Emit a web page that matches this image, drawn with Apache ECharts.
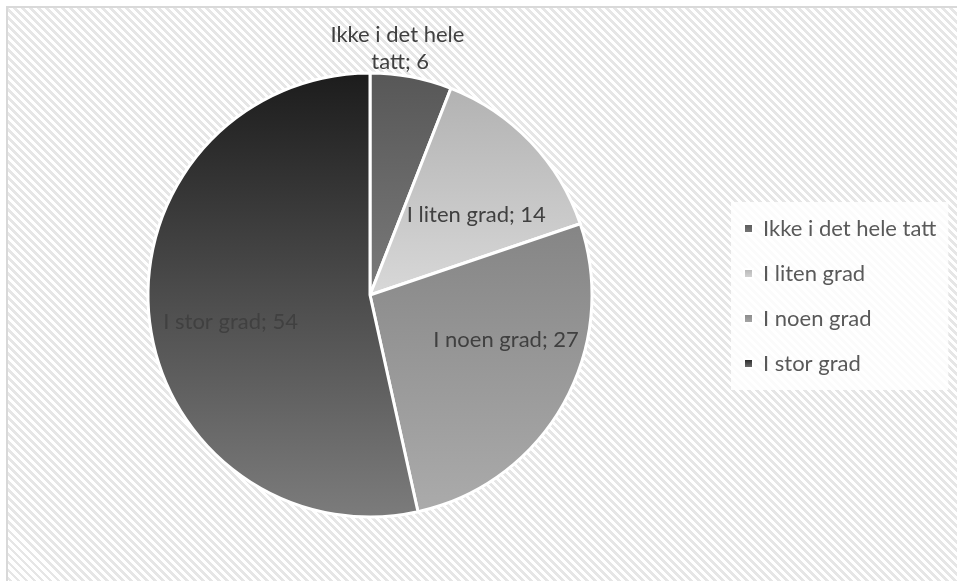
<!DOCTYPE html>
<html>
<head>
<meta charset="utf-8">
<script src="https://cdn.jsdelivr.net/npm/echarts@6/dist/echarts.min.js"></script>
<style>
  html, body { margin: 0; padding: 0; background: #fff; }
  #frame {
    position: absolute; left: 6px; top: 6px; width: 960px; height: 590px;
    box-sizing: border-box;
    border-left: 2px solid #d9d9d9; border-top: 2px solid #d9d9d9;
    background-color: #fff;
    background-image: repeating-linear-gradient(45deg, #e6e6e6 0px, #e6e6e6 2.8px, #fff 2.8px, #fff 5.66px);
  }
  #chart { position: absolute; left: 0; top: 0; width: 957px; height: 581px; }
</style>
</head>
<body>
<div id="frame"></div>
<div id="chart"></div>
<script>
// Svarfordeling
const categories = ['Ikke i det hele tatt', 'I liten grad', 'I noen grad', 'I stor grad'];
const values = [6, 14, 27, 54];

// Vertikale gråtoner for hver sektor (topp -> bunn)
const shades = [
  ['#575757', '#7a7a7a'],
  ['#b2b2b2', '#d8d8d8'],
  ['#858585', '#ababab'],
  ['#1c1c1c', '#7c7c7c']
];

const CX = 370, CY = 295, R = 222;
const FONT = 'Lato, "Noto Sans", sans-serif';
// Finjustering av etikettplassering (px)
const labelNudge = [[-11, -1], [10, 12], [20, -20], [-7, 12]];

const total = values.reduce((a, b) => a + b, 0);
const midAngles = [];
let acc = 0;
values.forEach(v => { midAngles.push((acc + v / 2) / total * Math.PI * 2); acc += v; });

const grad = (top, bottom) => new echarts.graphic.LinearGradient(0, 0, 0, 1, [
  { offset: 0, color: top }, { offset: 1, color: bottom }
]);

const chart = echarts.init(document.getElementById('chart'), null, { renderer: 'canvas' });

chart.setOption({
  backgroundColor: 'transparent',
  animation: false,
  legend: {
    orient: 'vertical',
    left: 731,
    top: 202,
    padding: [14, 12, 14, 12],
    backgroundColor: 'rgba(255,255,255,0.82)',
    icon: 'rect',
    itemWidth: 9,
    itemHeight: 9,
    itemGap: 20,
    textStyle: { fontFamily: FONT, fontSize: 22, color: '#595959', lineHeight: 25, padding: [0, 0, 0, 5] },
    data: categories
  },
  series: [{
    type: 'pie',
    center: [CX, CY],
    radius: [0, R],
    startAngle: 90,
    clockwise: true,
    itemStyle: { borderColor: '#fff', borderWidth: 3 },
    label: {
      position: 'inside',
      formatter: '{b}; {c}',
      fontFamily: FONT,
      fontSize: 22,
      color: '#404040',
      lineHeight: 27
    },
    labelLine: { show: false },
    labelLayout: function (p) {
      const i = p.dataIndex;
      const a = midAngles[i];
      const [dx, dy] = labelNudge[i];
      if (i === 0) {
        return {
          x: CX + R * Math.sin(a) + dx,
          y: CY - R * Math.cos(a) + dy,
          align: 'center',
          verticalAlign: 'bottom'
        };
      }
      return {
        x: CX + 0.6 * R * Math.sin(a) + dx,
        y: CY - 0.6 * R * Math.cos(a) + dy,
        align: 'center',
        verticalAlign: 'middle'
      };
    },
    data: categories.map((name, i) => ({
      name: name,
      value: values[i],
      itemStyle: { color: grad(shades[i][0], shades[i][1]) },
      label: i === 0 ? { position: 'outside', width: 150, overflow: 'break', align: 'center' } : {}
    }))
  }]
});
</script>
</body>
</html>
